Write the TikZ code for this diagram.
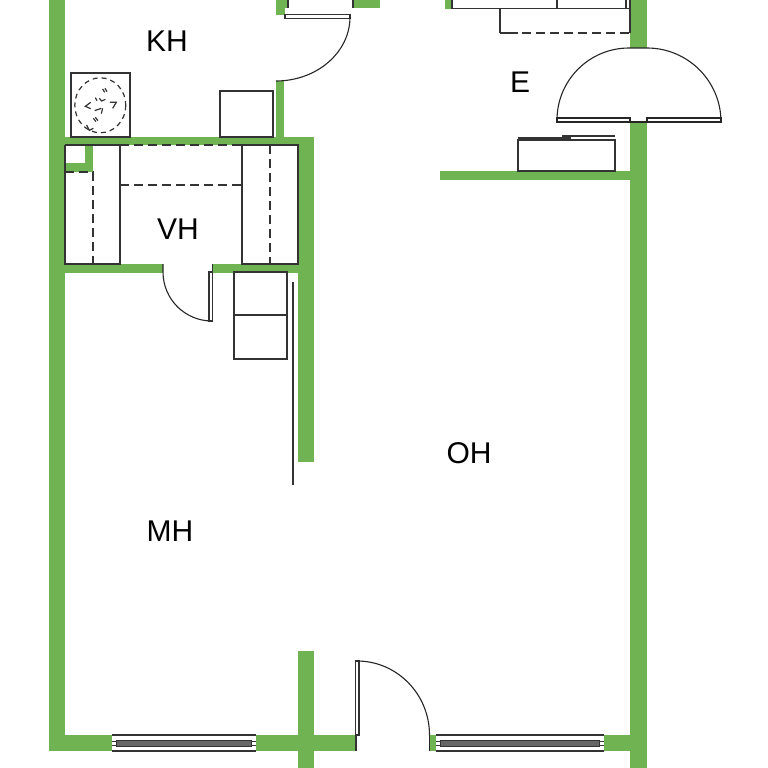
\documentclass[tikz,border=0pt]{standalone}
\usepackage{fontspec}
\setmainfont{Liberation Sans}
\definecolor{wallgreen}{HTML}{70B352}
\definecolor{linegrey}{HTML}{333333}
\tikzset{
  x=1pt,y=-1pt,
  wall/.style={fill=wallgreen,draw=none},
  fixture/.style={draw=linegrey,line width=1.2pt,fill=white},
  plain/.style={draw=linegrey,line width=1.2pt},
  dashline/.style={draw=linegrey,line width=1.2pt,dash pattern=on 9pt off 5pt},
  arcline/.style={draw=black!85,line width=1.1pt},
  room/.style={font=\fontsize{30}{34}\selectfont,text=black,inner sep=0pt}
}
\begin{document}
\begin{tikzpicture}
\useasboundingbox (0,0) rectangle (768,768);
\fill[white] (0,0) rectangle (768,768);
% walls
\fill[wall] (48.5,0) rectangle (65,751);
\fill[wall] (48.5,735) rectangle (112,751);
\fill[wall] (256,735) rectangle (356,751);
\fill[wall] (298,651) rectangle (314,768);
\fill[wall] (429,735) rectangle (436,751);
\fill[wall] (604,735) rectangle (647,751);
\fill[wall] (630,122) rectangle (647,768);
\fill[wall] (630,0) rectangle (647,48);
\fill[wall] (48.5,137) rectangle (314,145);
\fill[wall] (298,137) rectangle (314,462);
\fill[wall] (276,81) rectangle (284,137);
\fill[wall] (276,0) rectangle (288,8);
\fill[wall] (276,8) rectangle (285,15);
\fill[wall] (353,0) rectangle (380,8);
\fill[wall] (445,0) rectangle (452,9);
\fill[wall] (440,171) rectangle (630,180);
\fill[wall] (65,264) rectangle (163,272.5);
\fill[wall] (212,264) rectangle (298,272.5);
% kitchen
\draw[fixture] (71,73) rectangle (130,137);
\draw[dashline,dash pattern=on 5pt off 4pt] (100.3,105.3) ellipse[x radius=25.5,y radius=27.5];
\begin{scope}[shift={(60,65)},scale=0.3333]
\foreach \p in {
  {(128,72) -- (134,82)}, {(135,70) -- (141,80)},
  {(118,100) -- (125,108) -- (136,103)}, {(106,98) -- (111,107)},
  {(150,112) -- (169,112) -- (158,130)},
  {(92,112) -- (76,124) -- (92,131)},
  {(104,137) -- (124,130)}, {(128,130) -- (124,146)},
  {(100,160) -- (108,170)}, {(106,157) -- (114,167)},
  {(80,180) -- (88,196) -- (100,190)}}{
  \draw[plain] \p;}
\end{scope}
\draw[fixture] (220,91) rectangle (273,137);
% top door
\draw[plain] (285,14.5) rectangle (350,18.5);
\draw[arcline] (350,17) arc[start angle=0,end angle=90,x radius=74,y radius=64];
\draw[plain] (288,0) -- (288,8);
\draw[plain] (353,0) -- (353,8);
% upper right fixtures
\draw[plain] (452,0) -- (452,8.5) -- (630,8.5);
\draw[plain] (557,0) -- (557,8.5);
\draw[plain] (500,8.5) -- (500,33);
\draw[plain] (626,0) -- (626,8.5);
\draw[plain] (630,0) -- (630,33);
\draw[plain] (500,33) -- (518,33);
\draw[dashline] (522,33) -- (630,33);
% balcony door E
\draw[arcline] (557,120) arc[start angle=180,end angle=270,radius=72] -- (647,48) arc[start angle=270,end angle=360,radius=74];
\draw[arcline] (557,118) -- (630,118) -- (630,122) -- (557,122) -- cycle;
\draw[arcline] (647,118) -- (721,118) -- (721,122) -- (647,122) -- cycle;
\draw[arcline] (630,122) -- (647,122);
% E fixture
\draw[fixture] (518,140) rectangle (615,171);
\draw[draw=linegrey,line width=1.8pt] (518,138) -- (571,138);
\draw[draw=linegrey,line width=1.3pt] (562,136) -- (615,136);
% VH fixtures
\draw[plain] (65,145) -- (120,145) (120,145) -- (120,264) -- (65,264) -- (65,145);
\draw[plain] (242,145) rectangle (298,264);
\fill[wall] (85,145.6) rectangle (93,172);
\fill[wall] (65.6,163) rectangle (85,172);
\draw[dashline] (65,172) -- (93,172) -- (93,264);
\draw[dashline] (120,185) -- (242,185);
\draw[dashline] (120,145) -- (242,145);
\draw[dashline] (270,145) -- (270,264);
% VH door
\draw[arcline] (163,264) -- (163,272) arc[start angle=180,end angle=90,radius=49];
\draw[plain] (212.5,264) -- (212.5,272);
\draw[plain] (209,272) rectangle (212.5,321);
% MH fixtures
\draw[fixture] (234,272) rectangle (287,359);
\draw[plain] (234,315) -- (287,315);
\draw[draw=linegrey,line width=2.3pt] (293,282) -- (293,485);
% entry door
\draw[plain] (355.5,661) rectangle (359,735);
\draw[plain] (356,735) -- (356,751);
\draw[arcline] (357,661) arc[start angle=270,end angle=360,x radius=72.5,y radius=74];
\draw[arcline] (429.5,733.5) -- (429.5,751);
% windows
\foreach \xa/\xb in {112/256,436/604}{
  \fill[white] (\xa,735) rectangle (\xb,751);
  \draw[plain] (\xa,735) -- (\xb,735);
  \draw[plain] (\xa,751) -- (\xb,751);
  \fill[black!60] (\xa+4.5,740) rectangle (\xb-4.5,746);
  \draw[plain,line width=0.6pt] (\xa+4.5,740) rectangle (\xb-4.5,746);
  \draw[plain,line width=0.8pt] (\xa,741) -- (\xa+4.5,741) (\xa,745) -- (\xa+4.5,745);
  \draw[plain,line width=0.8pt] (\xb-4.5,741) -- (\xb,741) (\xb-4.5,745) -- (\xb,745);
}
% labels
\node[room] (kh) at (167,41) {KH};
\node[room] (e) at (520,82) {E};
\node[room] (vh) at (178,229) {VH};
\node[room] (oh) at (469,453) {OH};
\node[room] (mh) at (170,531) {MH};
\end{tikzpicture}
\end{document}
